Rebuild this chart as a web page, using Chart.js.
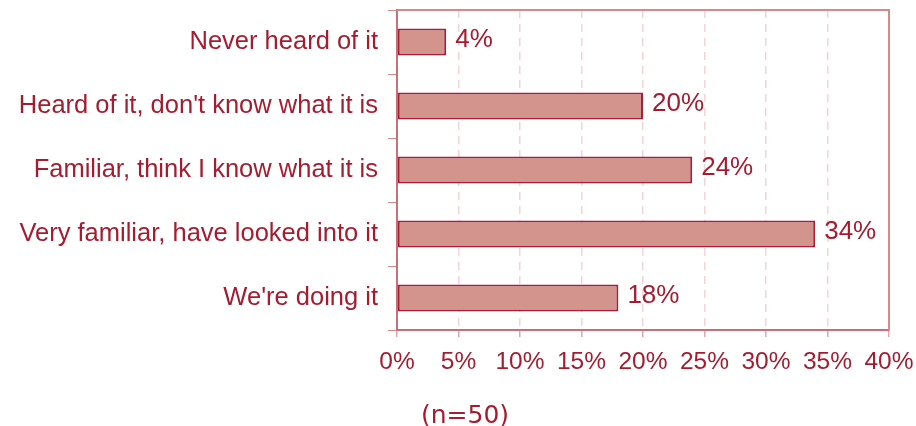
<!DOCTYPE html>
<html><head><meta charset="utf-8">
<script src="https://cdn.jsdelivr.net/npm/chart.js@4/dist/chart.umd.min.js"></script>
<style>
html,body{margin:0;padding:0;background:#fff;}
#wrap{position:relative;width:916px;height:426px;overflow:hidden;}
#note{position:absolute;left:421px;top:402px;font-family:"DejaVu Sans",sans-serif;font-size:25px;color:#a51c30;line-height:25px;white-space:nowrap;}
</style></head>
<body><div id="wrap"><canvas id="c" width="916" height="426" style="width:916px;height:426px"></canvas><div id="note"></div></div>
<script>
const categories = ["Never heard of it", "Heard of it, don't know what it is", "Familiar, think I know what it is", "Very familiar, have looked into it", "We're doing it"];
const values = [4, 20, 24, 34, 18];
const xTickMin = 0, xTickMax = 40, xTickStep = 5;
const note = "(n=50)";
document.getElementById('note').textContent = note;

const TEXT = '#a51c30';
const FONT = '"Liberation Sans", Arial, sans-serif';

const labelsPlugin = {
  id: 'labels',
  afterDatasetsDraw(chart) {
    const ctx = chart.ctx;
    const meta = chart.getDatasetMeta(0);
    ctx.save();
    ctx.fillStyle = TEXT;
    ctx.font = '26px ' + FONT;
    ctx.textAlign = 'left';
    ctx.textBaseline = 'middle';
    meta.data.forEach((bar, i) => {
      ctx.fillText(values[i] + '%', bar.x + 9, bar.y - 2);
    });
    ctx.restore();
  },
  afterDraw(chart) {
    const {ctx, chartArea: a} = chart;
    ctx.save();
    ctx.strokeStyle = '#d48a8a';
    ctx.lineWidth = 2;
    ctx.beginPath();
    ctx.moveTo(a.left, a.top);
    ctx.lineTo(a.right, a.top);
    ctx.lineTo(a.right, a.bottom);
    ctx.stroke();
    ctx.restore();
  }
};

new Chart(document.getElementById('c'), {
  type: 'bar',
  data: {
    labels: categories,
    datasets: [{
      data: values,
      backgroundColor: '#d3948e',
      borderColor: '#a81f38',
      borderWidth: 2,
      borderSkipped: false,
      categoryPercentage: 1,
      barPercentage: 0.42
    }]
  },
  options: {
    indexAxis: 'y',
    responsive: false,
    animation: false,
    layout: {padding: {top: 10, right: 27, left: 0, bottom: 0}},
    plugins: {legend: {display: false}, tooltip: {enabled: false}},
    scales: {
      x: {
        min: xTickMin, max: xTickMax,
        afterFit(s) { s.height = 96; s.paddingLeft = 0; s.paddingRight = 0; s.paddingTop = 0; s.paddingBottom = 0; },
        ticks: {stepSize: xTickStep, color: TEXT, font: {family: FONT, size: 24.5}, padding: 11,
          maxRotation: 0, autoSkip: false, callback: v => v + '%'},
        grid: {color: '#f2d6d6', tickColor: '#e0a8a8', tickLength: 7, tickBorderDash: [], lineWidth: 1.5},
        border: {color: '#c8707a', width: 2, dash: [8, 6]}
      },
      y: {
        afterFit(s) { s.width = 397; s.paddingLeft = 0; s.paddingRight = 0; s.paddingTop = 0; s.paddingBottom = 0; },
        ticks: {color: TEXT, font: {family: FONT, size: 25.5}, padding: 10, autoSkip: false},
        grid: {drawOnChartArea: false, tickColor: '#d48a8a', tickLength: 9, offset: true},
        border: {color: '#c8707a', width: 2}
      }
    }
  },
  plugins: [labelsPlugin]
});
</script>
</body></html>
